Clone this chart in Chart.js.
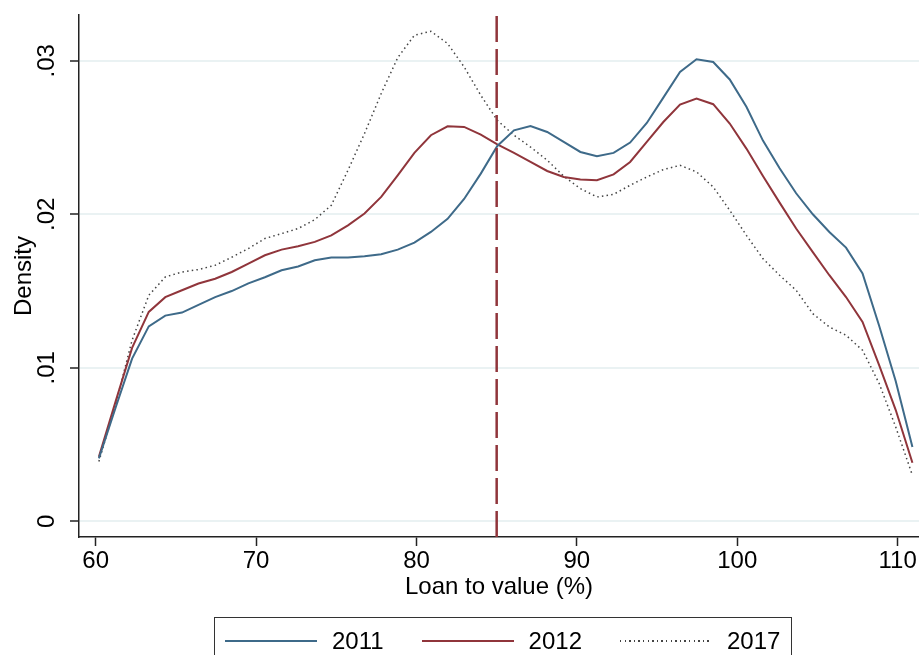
<!DOCTYPE html>
<html>
<head>
<meta charset="utf-8">
<script src="https://cdn.jsdelivr.net/npm/chart.js@4"></script>
<style>
  html, body { margin: 0; padding: 0; background: #fff; }
  #wrap { position: relative; width: 919px; height: 655px; overflow: hidden; }
  #legend {
    position: absolute; left: 214px; top: 617px; width: 578px; height: 60px;
    border: 1.5px solid #333; box-sizing: border-box;
    display: flex; align-items: flex-start; padding: 9px 0 0 10px;
    font: 24px "Liberation Sans", Arial, sans-serif; color: #000;
  }
  .item { display: flex; align-items: center; margin-right: 38px; }
  .swatch { width: 92px; height: 2px; margin-right: 15px; }
</style>
</head>
<body>
<div id="wrap">
  <canvas id="chart" width="919" height="655"></canvas>
  <div id="legend"></div>
</div>
<script>
// ── Data ────────────────────────────────────────────────────
const ltv = [60.2, 61.24, 62.27, 63.31, 64.34, 65.38, 66.41, 67.45, 68.48, 69.52,
  70.55, 71.59, 72.62, 73.66, 74.69, 75.73, 76.76, 77.8, 78.83, 79.87,
  80.9, 81.94, 82.97, 84.01, 85.04, 86.08, 87.11, 88.15, 89.18, 90.22,
  91.25, 92.29, 93.32, 94.36, 95.39, 96.43, 97.46, 98.5, 99.53, 100.57,
  101.6, 102.64, 103.67, 104.71, 105.74, 106.78, 107.81, 108.85, 109.88, 110.92];

const density2011 = [0.0041, 0.0074, 0.0106, 0.0127, 0.0134, 0.0136, 0.0141, 0.0146, 0.0150, 0.0155,
  0.0159, 0.01635, 0.0166, 0.0170, 0.01718, 0.01718, 0.01726, 0.0174, 0.0177, 0.01815,
  0.01885, 0.0197, 0.0210, 0.02265, 0.02445, 0.02547, 0.02575, 0.02536, 0.02471, 0.02406,
  0.02378, 0.0240, 0.02467, 0.02595, 0.0276, 0.02927, 0.0301, 0.02992, 0.02878, 0.0270,
  0.0248, 0.0230, 0.02137, 0.0200, 0.01885, 0.01783, 0.01614, 0.01272, 0.00912, 0.00484];

const density2012 = [0.0042, 0.0078, 0.0113, 0.01364, 0.0146, 0.01505, 0.01549, 0.0158, 0.01624, 0.01679,
  0.01733, 0.0177, 0.01792, 0.0182, 0.01863, 0.01928, 0.02005, 0.02113, 0.02254, 0.0240,
  0.02515, 0.02573, 0.02569, 0.02519, 0.02456, 0.0240, 0.02341, 0.02282, 0.02243, 0.02226,
  0.02222, 0.0226, 0.02341, 0.02471, 0.02601, 0.02715, 0.02754, 0.02717, 0.02591, 0.02428,
  0.0225, 0.02076, 0.01907, 0.01754, 0.01603, 0.01461, 0.01299, 0.01016, 0.00725, 0.00382];

const density2017 = [0.0039, 0.0076, 0.0118, 0.01472, 0.01592, 0.01624, 0.0164, 0.01668, 0.0172, 0.01777,
  0.01842, 0.01874, 0.01907, 0.01965, 0.02059, 0.02287, 0.02526, 0.02786, 0.0302, 0.03166,
  0.03192, 0.03112, 0.0296, 0.02775, 0.02612, 0.02515, 0.02438, 0.02352, 0.02248, 0.02167,
  0.02113, 0.0213, 0.02189, 0.02243, 0.02291, 0.02319, 0.02276, 0.02178, 0.02026, 0.01863,
  0.01711, 0.01603, 0.01505, 0.01353, 0.01266, 0.01212, 0.01114, 0.00897, 0.00614, 0.0030];

const seriesLabels = ['2011', '2012', '2017'];
const xTicks = [60, 70, 80, 90, 100, 110];
const yTicks = [0, 0.01, 0.02, 0.03];
const cutoffLtv = 85;

// axis ranges
const X_MIN = 58.96, X_MAX = 111.33;
const Y_MIN = -0.00102, Y_MAX = 0.03298;

const FONT = '"Liberation Sans", Arial, sans-serif';
const BLUE = '#3e6a89';
const MAROON = '#90353b';
const DOT = '#444';

const toPoints = ys => ys.map((y, i) => ({ x: ltv[i], y }));
const fmtY = v => (v === 0 ? '0' : String(v).replace(/^0/, ''));

// Rotated y tick labels (Stata style)
const yLabelPlugin = {
  id: 'yLabels',
  afterDraw(chart) {
    const { ctx, scales: { y } } = chart;
    ctx.save();
    ctx.font = `24px ${FONT}`;
    ctx.fillStyle = '#000';
    ctx.textAlign = 'center';
    ctx.textBaseline = 'middle';
    for (const v of yTicks) {
      ctx.save();
      ctx.translate(47, y.getPixelForValue(v));
      ctx.rotate(-Math.PI / 2);
      ctx.fillText(fmtY(v), 0, 0);
      ctx.restore();
    }
    ctx.restore();
  },
};

const datasets = [
  {
    label: 'cutoff',
    data: [{ x: cutoffLtv, y: Y_MIN }, { x: cutoffLtv, y: Y_MAX }],
    borderColor: MAROON, borderWidth: 2.5, borderDash: [26, 7],
  },
  { label: seriesLabels[0], data: toPoints(density2011), borderColor: BLUE, borderWidth: 2 },
  { label: seriesLabels[1], data: toPoints(density2012), borderColor: MAROON, borderWidth: 2 },
  { label: seriesLabels[2], data: toPoints(density2017), borderColor: DOT, borderWidth: 1.5, borderDash: [1.5, 3.2] },
];

new Chart(document.getElementById('chart'), {
  type: 'line',
  data: { datasets },
  options: {
    responsive: false,
    animation: false,
    layout: { padding: { top: 15, right: 0, bottom: 0, left: 0 } },
    elements: { point: { radius: 0 }, line: { tension: 0, fill: false } },
    plugins: { legend: { display: false }, tooltip: { enabled: false } },
    scales: {
      x: {
        type: 'linear', min: X_MIN, max: X_MAX,
        afterBuildTicks: s => { s.ticks = xTicks.map(value => ({ value })); },
        afterFit: s => { s.height = 118; },
        grid: { drawOnChartArea: false, drawTicks: true, tickLength: 9, tickColor: '#222', tickWidth: 1.5 },
        border: { display: true, color: '#222', width: 1.5 },
        ticks: { color: '#000', font: { family: FONT, size: 24 }, padding: 1, maxRotation: 0 },
        title: { display: true, text: 'Loan to value (%)', color: '#000', font: { family: FONT, size: 24 }, padding: { top: 0, bottom: 53 } },
      },
      y: {
        type: 'linear', min: Y_MIN, max: Y_MAX,
        afterBuildTicks: s => { s.ticks = yTicks.map(value => ({ value })); },
        afterFit: s => { s.width = 79; },
        grid: { color: '#eaf2f3', lineWidth: 2, drawTicks: true, tickLength: 9, tickColor: '#222', tickWidth: 1.5 },
        border: { display: true, color: '#222', width: 1.5 },
        ticks: { display: false },
        title: { display: true, text: 'Density', color: '#000', font: { family: FONT, size: 24 }, padding: { top: 10, bottom: 0 } },
      },
    },
  },
  plugins: [yLabelPlugin],
});

// ── Legend ──────────────────────────────────────────────────
const legend = document.getElementById('legend');
datasets.slice(1).forEach(ds => {
  const item = document.createElement('div');
  item.className = 'item';
  const sw = document.createElement('div');
  sw.className = 'swatch';
  if (ds.borderDash) {
    sw.style.height = '1.5px';
    sw.style.background = `repeating-linear-gradient(to right, ${ds.borderColor} 0 1.5px, transparent 1.5px 4.6px)`;
  } else {
    sw.style.background = ds.borderColor;
  }
  const txt = document.createElement('span');
  txt.textContent = ds.label;
  item.appendChild(sw);
  item.appendChild(txt);
  legend.appendChild(item);
});
</script>
</body>
</html>
